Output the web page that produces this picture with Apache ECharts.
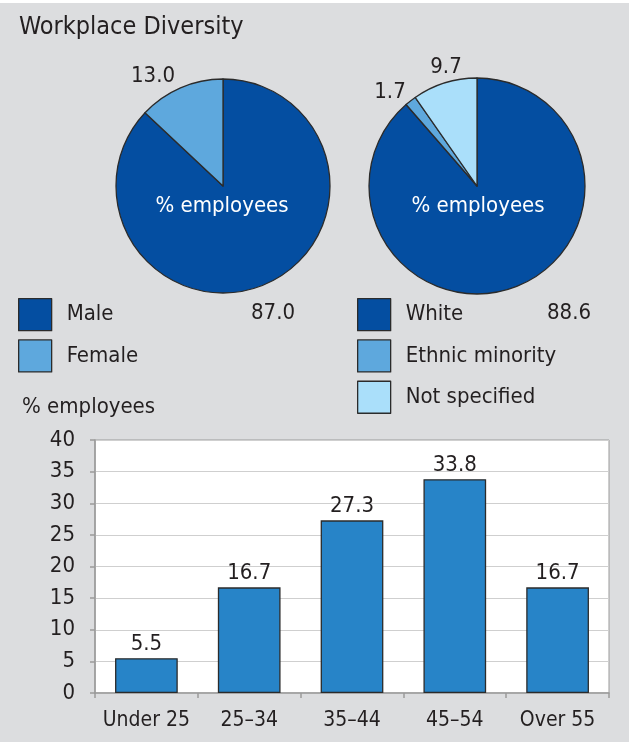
<!DOCTYPE html>
<html>
<head>
<meta charset="utf-8">
<script src="https://cdn.jsdelivr.net/npm/echarts@6/dist/echarts.min.js"></script>
<style>
  html, body { margin: 0; padding: 0; background: #dcdddf; }
  #chart { width: 629px; height: 742px; }
</style>
</head>
<body>
<div id="chart"></div>
<script>
// Gender split (% employees)
const genderNames = ['Male', 'Female'];
const genderValues = [87.0, 13.0];

// Ethnicity split (% employees)
const ethnicNames = ['White', 'Ethnic minority', 'Not specified'];
const ethnicValues = [88.6, 1.7, 9.7];

// Age bands (% employees)
const ageBands = ['Under 25', '25–34', '35–44', '45–54', 'Over 55'];
const ageValues = [5.5, 16.7, 27.3, 33.8, 16.7];

// Y-axis ticks
const yTicks = [0, 5, 10, 15, 20, 25, 30, 35, 40];

const FONT = '"Liberation Sans Narrow", "DejaVu Sans Condensed", "Open Sans", sans-serif';
const INK = '#231f20';
const DARK_BLUE = '#044ea1';
const MID_BLUE = '#5ea8dd';
const LIGHT_BLUE = '#aadffa';
const BAR_BLUE = '#2784c8';

const chart = echarts.init(document.getElementById('chart'), null, { renderer: 'canvas' });

// label spots around each pie (label layout only)
const genderLabelPos = [[273, 313], [153, 76]];
const ethnicLabelPos = [[569, 313], [390, 92], [446, 67]];

function pieSeries(name, names, values, colors, center, radius, labelPos) {
  return {
    type: 'pie',
    name: name,
    center: center,
    radius: radius,
    startAngle: 90,
    clockwise: true,
    animation: false,
    silent: true,
    itemStyle: { borderColor: '#2b2b2b', borderWidth: 1.3 },
    label: {
      show: true,
      position: 'outside',
      fontFamily: FONT,
      fontSize: 22,
      color: INK,
      formatter: p => p.value.toFixed(1)
    },
    labelLine: { show: false },
    labelLayout: p => ({
      x: labelPos[p.dataIndex][0],
      y: labelPos[p.dataIndex][1],
      align: 'center',
      verticalAlign: 'middle'
    }),
    emphasis: { disabled: true },
    data: names.map((n, i) => ({ name: n, value: values[i], itemStyle: { color: colors[i] } }))
  };
}

function legendAt(left, names) {
  return {
    data: names,
    orient: 'vertical',
    left: left,
    top: 298,
    padding: 0,
    icon: 'rect',
    itemWidth: 33,
    itemHeight: 32,
    itemGap: 8,
    selectedMode: false,
    itemStyle: { borderColor: '#2b2b2b', borderWidth: 1.3 },
    textStyle: { fontFamily: FONT, fontSize: 22, color: INK, padding: [3, 0, 0, 10] }
  };
}

const option = {
  backgroundColor: '#dcdddf',
  animation: false,
  title: {
    text: 'Workplace Diversity',
    left: 14,
    top: 10,
    textStyle: { fontFamily: FONT, fontSize: 25, fontWeight: 'normal', color: INK }
  },
  legend: [legendAt(18, genderNames), legendAt(357, ethnicNames)],
  graphic: [
    { type: 'rect', left: 0, top: 0, shape: { width: 629, height: 3 }, style: { fill: '#ffffff' }, silent: true },
    { type: 'text', x: 222, y: 206, z: 100, style: { text: '% employees', fill: '#ffffff', font: '22px ' + FONT, align: 'center', verticalAlign: 'middle' } },
    { type: 'text', x: 478, y: 206, z: 100, style: { text: '% employees', fill: '#ffffff', font: '22px ' + FONT, align: 'center', verticalAlign: 'middle' } },
    { type: 'text', x: 22, y: 407, style: { text: '% employees', fill: INK, font: '22px ' + FONT, align: 'left', verticalAlign: 'middle' } }
  ],
  grid: { left: 95, right: 20, top: 440, bottom: 49, show: true, backgroundColor: '#ffffff', borderColor: '#9a9a9a', borderWidth: 1 },
  xAxis: {
    type: 'category',
    data: ageBands,
    axisLine: { lineStyle: { color: '#9a9a9a', width: 1.5 } },
    axisTick: { show: true, length: 5, interval: 0, alignWithLabel: false, lineStyle: { color: '#9a9a9a', width: 1.5 } },
    axisLabel: { fontFamily: FONT, fontSize: 21, color: INK, margin: 17, interval: 0, hideOverlap: false }
  },
  yAxis: {
    type: 'value',
    min: yTicks[0],
    max: yTicks[yTicks.length - 1],
    interval: yTicks[1] - yTicks[0],
    axisLine: { show: true, lineStyle: { color: '#9a9a9a', width: 1.5 } },
    axisTick: { show: true, length: 5, lineStyle: { color: '#9a9a9a', width: 1.5 } },
    axisLabel: { fontFamily: FONT, fontSize: 22, color: INK, margin: 20 },
    splitLine: { show: true, lineStyle: { color: '#cfcfcf', width: 1.2 } }
  },
  series: [
    pieSeries('Gender', genderNames, genderValues, [DARK_BLUE, MID_BLUE], [223, 186], 107, genderLabelPos),
    pieSeries('Ethnicity', ethnicNames, ethnicValues, [DARK_BLUE, MID_BLUE, LIGHT_BLUE], [477, 186], 108, ethnicLabelPos),
    {
      type: 'bar',
      name: 'Age',
      data: ageValues,
      barWidth: '61%',
      silent: true,
      itemStyle: { color: BAR_BLUE, borderColor: '#2b2b2b', borderWidth: 1.3 },
      label: {
        show: true,
        position: 'top',
        distance: 3,
        fontFamily: FONT,
        fontSize: 22,
        color: INK,
        formatter: p => p.value.toFixed(1)
      }
    }
  ]
};

chart.setOption(option);
</script>
</body>
</html>
